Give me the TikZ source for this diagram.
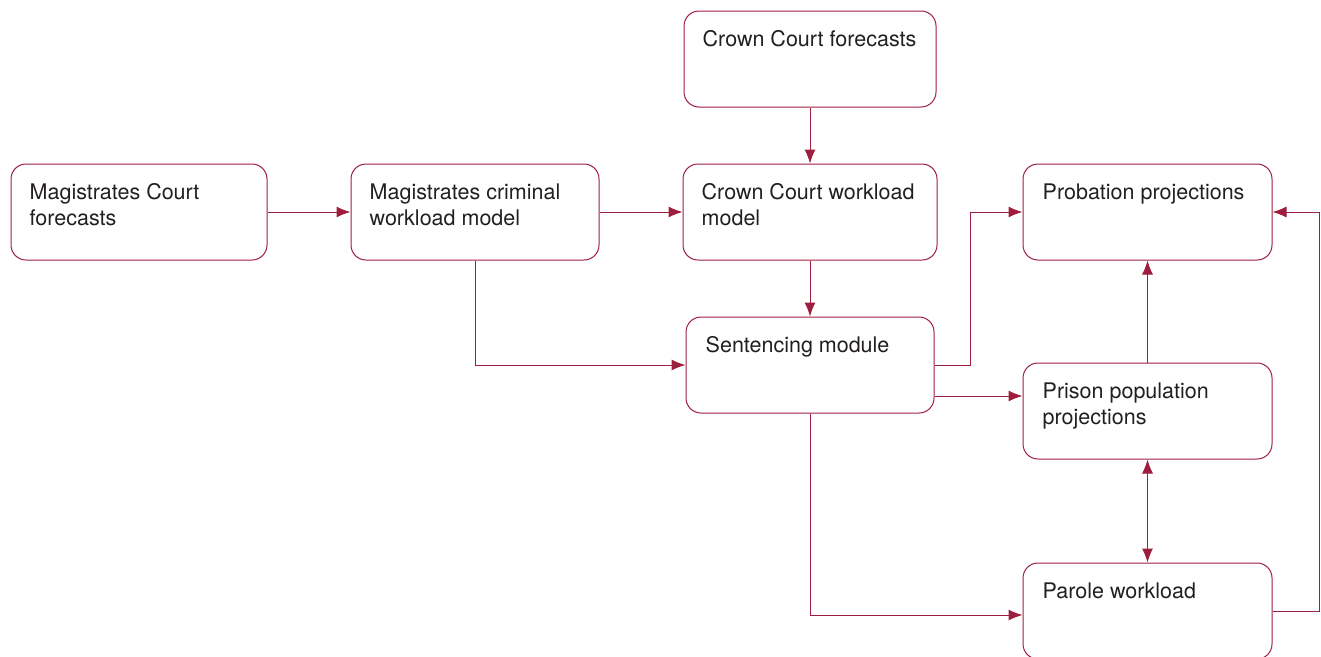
\documentclass[tikz,border=0pt]{standalone}
\usepackage{fontspec}
\setmainfont{TeX Gyre Heros}
\usetikzlibrary{arrows.meta}
\definecolor{wine}{RGB}{158,30,64}
\definecolor{ink}{RGB}{35,31,32}
\begin{document}
\begin{tikzpicture}[x=1pt,y=-1pt,
  >={Latex[length=14pt,width=11pt]},
  box/.style={draw=wine, line width=1pt, rounded corners=15pt,
    minimum height=96pt, inner sep=0pt},
  lbl/.style={anchor=north west, inner sep=0pt, align=left, text=ink,
    font=\fontsize{21.5}{26}\selectfont},
  flow/.style={draw=wine, line width=1pt, ->},
]
\useasboundingbox (0,0) rectangle (1321,656);

% boxes
\node[box, minimum width=256pt] (mcf)  at (139,212)    {};
\node[box, minimum width=248pt] (mcw)  at (475,212)    {};
\node[box, minimum width=252pt] (ccf)  at (810,59)     {};
\node[box, minimum width=254pt] (ccw)  at (810,212)    {};
\node[box, minimum width=248pt] (sm)   at (810,365)    {};
\node[box, minimum width=249pt] (prob) at (1147.5,212) {};
\node[box, minimum width=249pt] (pris) at (1147.5,411) {};
\node[box, minimum width=249pt] (par)  at (1147.5,611) {};

% box texts, set at the upper left of each box
\node[lbl] at ([xshift=19pt,yshift=-20pt]mcf.north west)  {Magistrates Court\\forecasts};
\node[lbl] at ([xshift=19pt,yshift=-20pt]mcw.north west)  {Magistrates criminal\\workload model};
\node[lbl] at ([xshift=19pt,yshift=-20pt]ccf.north west)  {Crown Court forecasts};
\node[lbl] at ([xshift=19pt,yshift=-20pt]ccw.north west)  {Crown Court workload\\model};
\node[lbl] at ([xshift=20pt,yshift=-20pt]sm.north west)   {Sentencing module};
\node[lbl] at ([xshift=20pt,yshift=-20pt]prob.north west) {Probation projections};
\node[lbl] at ([xshift=20pt,yshift=-20pt]pris.north west) {Prison population\\projections};
\node[lbl] at ([xshift=20pt,yshift=-20pt]par.north west)  {Parole workload};

% connectors
\draw[flow] (mcf.east) -- (mcw.west);
\draw[flow] (mcw.east) -- (ccw.west);
\draw[flow] (ccf.south) -- (ccw.north);
\draw[flow] (ccw.south) -- (sm.north);
\draw[flow] (mcw.south) |- (sm.west);
\draw[flow] (sm.east) -- ++(36,0) |- (prob.west);
\coordinate (smlow) at ([yshift=-31pt]sm.east);
\draw[flow] (smlow) -- (smlow -| pris.west);
\draw[flow] (pris.north) -- (prob.south);
\draw[flow, <->] (pris.south) -- (par.north);
\coordinate (parin) at ([yshift=-4pt]par.west);
\draw[flow] (sm.south) |- (parin);
\draw[flow] (par.east) -- ++(47,0) |- (prob.east);
\end{tikzpicture}
\end{document}
